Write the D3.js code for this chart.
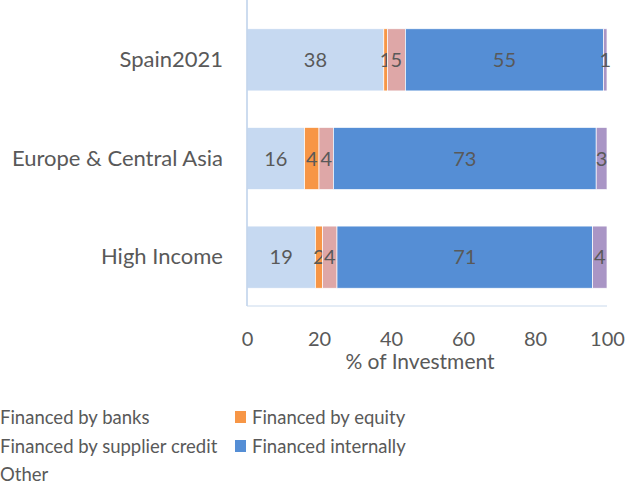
<!DOCTYPE html>
<html><head><meta charset="utf-8">
<script src="https://cdn.jsdelivr.net/npm/d3@7"></script>
<style>body{margin:0;background:#fff}svg{display:block}text{font-family:Lato,"Open Sans",sans-serif;fill:#595959}</style>
</head><body>
<svg id="c" width="628" height="486"></svg>
<script>
const categories = ["Spain2021", "Europe & Central Asia", "High Income"];
const seriesNames = ["Financed by banks", "Financed by equity", "Financed by supplier credit", "Financed internally", "Other"];
const banks = [38, 16, 19];
const equity = [1, 4, 2];
const supplier = [5, 4, 4];
const internally = [55, 73, 71];
const other = [1, 3, 4];
const xTicks = [0, 20, 40, 60, 80, 100];
const colors = ["#c6d9f1", "#f79646", "#dea7a7", "#558ed5", "#a995c5"];

const table = categories.map((c, i) => ({cat: c, s0: banks[i], s1: equity[i], s2: supplier[i], s3: internally[i], s4: other[i]}));
const keys = ["s0", "s1", "s2", "s3", "s4"];
const stack = d3.stack().keys(keys)(table);

const svg = d3.select("#c");
const x = d3.scaleLinear().domain([0, 100]).range([247, 607]);
const y = d3.scaleBand().domain(categories).range([12, 305]).paddingInner(0.37).paddingOuter(0.17);

const g = svg.append("g");
stack.forEach((layer, li) => {
  g.selectAll(null).data(layer).join("rect")
    .attr("x", d => x(d[0])).attr("width", d => x(d[1]) - x(d[0]))
    .attr("y", d => y(d.data.cat)).attr("height", y.bandwidth())
    .attr("fill", colors[li]).attr("stroke", "#fff").attr("stroke-width", 0.7);
  g.selectAll(null).data(layer).join("text")
    .attr("x", d => (x(d[0]) + x(d[1])) / 2)
    .attr("y", d => y(d.data.cat) + y.bandwidth() / 2)
    .attr("dy", "0.36em").attr("text-anchor", "middle")
    .attr("font-size", 20)
    .text(d => d[1] - d[0]);
});

// axes lines
svg.append("line").attr("x1", 247).attr("x2", 247).attr("y1", 0).attr("y2", 306).attr("stroke", "#bcd0ea").attr("stroke-width", 1.5);
svg.append("line").attr("x1", 247).attr("x2", 607).attr("y1", 306).attr("y2", 306).attr("stroke", "#c9d9ec").attr("stroke-width", 1);

// x axis via d3
const xAxis = d3.axisBottom(x).tickValues(xTicks).tickSize(0).tickPadding(0);
const ax = svg.append("g").attr("transform", "translate(0,346)").call(xAxis);
ax.select(".domain").remove();
ax.selectAll("text").attr("dy", null).attr("font-size", 20).attr("fill", "#595959").style("font-family", "Lato, 'Open Sans', sans-serif");

svg.append("text").attr("x", 420).attr("y", 369).attr("text-anchor", "middle").attr("font-size", 21).text("% of Investment");

// category labels
const yAxis = d3.axisLeft(y).tickSize(0).tickPadding(0);
const ay = svg.append("g").attr("transform", "translate(223,0)").call(yAxis);
ay.select(".domain").remove();
ay.selectAll("text").attr("font-size", 22).attr("fill", "#595959").style("font-family", "Lato, 'Open Sans', sans-serif");

// legend
const legPos = [[-17, 417], [235, 417], [-17, 446], [235, 446], [-17, 474]];
seriesNames.forEach((n, i) => {
  const [lx, ly] = legPos[i];
  svg.append("rect").attr("x", lx).attr("y", ly - 6).attr("width", 11).attr("height", 12).attr("fill", colors[i]);
  svg.append("text").attr("x", lx + 17).attr("y", ly).attr("dy", "0.36em").attr("font-size", 18.5).text(n);
});
</script>
</body></html>
